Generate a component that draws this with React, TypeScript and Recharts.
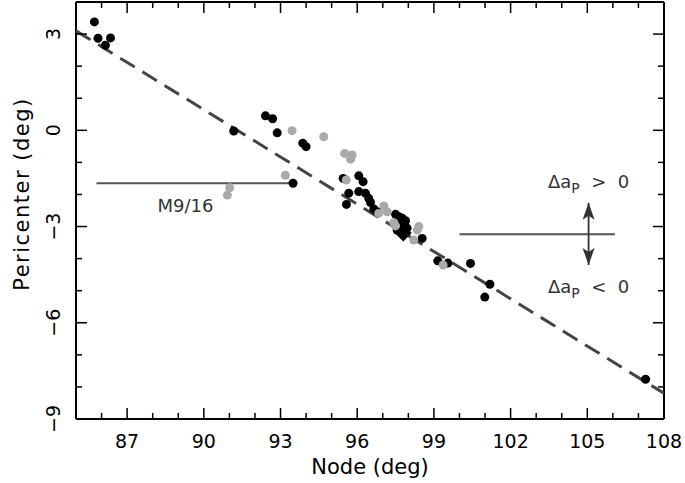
import React from 'react';
import { ScatterChart, Scatter, XAxis, YAxis, Label } from 'recharts';

// axis ticks (every degree, labels every 3)
const xTicks = [85, 86, 87, 88, 89, 90, 91, 92, 93, 94, 95, 96, 97, 98, 99, 100, 101, 102, 103, 104, 105, 106, 107, 108];
const xLabelled = [87, 90, 93, 96, 99, 102, 105, 108];
const yTicks = [-9, -8, -7, -6, -5, -4, -3, -2, -1, 0, 1, 2, 3, 4];
const yLabelled = [3, 0, -3, -6, -9];

// node, pericenter (deg)
const blackPoints = [
  { x: 85.72, y: 3.38 }, { x: 85.86, y: 2.87 }, { x: 86.15, y: 2.65 }, { x: 86.35, y: 2.88 },
  { x: 91.17, y: -0.02 }, { x: 92.41, y: 0.45 }, { x: 92.69, y: 0.36 }, { x: 92.87, y: -0.08 },
  { x: 93.87, y: -0.4 }, { x: 94.0, y: -0.51 }, { x: 93.49, y: -1.65 },
  { x: 95.45, y: -1.5 }, { x: 96.06, y: -1.42 }, { x: 96.23, y: -1.6 }, { x: 95.67, y: -1.96 },
  { x: 95.58, y: -2.31 }, { x: 96.06, y: -1.91 }, { x: 96.32, y: -1.96 }, { x: 96.45, y: -2.12 },
  { x: 96.52, y: -2.25 }, { x: 96.65, y: -2.45 }, { x: 96.78, y: -2.54 }, { x: 97.5, y: -2.62 },
  { x: 97.65, y: -2.7 }, { x: 97.76, y: -2.74 }, { x: 97.89, y: -2.82 }, { x: 97.56, y: -3.11 },
  { x: 97.95, y: -3.05 }, { x: 97.7, y: -2.95 }, { x: 98.54, y: -3.37 },
  { x: 99.15, y: -4.07 }, { x: 99.55, y: -4.14 }, { x: 100.43, y: -4.15 }, { x: 101.19, y: -4.8 },
  { x: 100.99, y: -5.2 }, { x: 107.28, y: -7.76 },
];

const grayPoints = [
  { x: 93.45, y: -0.01 }, { x: 94.69, y: -0.2 }, { x: 93.19, y: -1.4 }, { x: 91.01, y: -1.79 },
  { x: 90.92, y: -2.02 }, { x: 95.51, y: -0.72 }, { x: 95.8, y: -0.77 }, { x: 95.74, y: -0.9 },
  { x: 95.57, y: -1.55 }, { x: 96.84, y: -2.59 }, { x: 97.04, y: -2.36 }, { x: 97.17, y: -2.54 },
  { x: 97.43, y: -2.88 }, { x: 97.5, y: -2.98 }, { x: 98.41, y: -3.0 }, { x: 98.35, y: -3.11 },
  { x: 98.21, y: -3.42 }, { x: 99.36, y: -4.2 },
];

const bestPoint = [{ x: 97.8, y: -3.2 }];

const fitLine = [{ x: 85, y: 3.1 }, { x: 108, y: -8.2 }];
const m916Line = [{ x: 85.8, y: -1.65 }, { x: 93.5, y: -1.65 }];
const splitLine = [{ x: 100.0, y: -3.24 }, { x: 106.08, y: -3.24 }];
const arrowTips = [{ x: 105.05, y: -2.26, dir: 'up' }, { x: 105.05, y: -4.2, dir: 'down' }];

const notes = [
  { x: 89.28, y: -2.54, kind: 'M9/16' },
  { x: 105.05, y: -1.8, kind: '>' },
  { x: 105.05, y: -5.06, kind: '<' },
];

const FONT = '"DejaVu Sans", sans-serif';
const minus = (v: number) => String(v).replace('-', '\u2212');

function BottomTick(props: any) {
  const { x, y, payload } = props;
  const major = xLabelled.includes(payload.value);
  return (
    <g>
      <line x1={x} x2={x} y1={y} y2={y - (major ? 11 : 6)} stroke="#000" strokeWidth={1.5} />
      {major && (
        <text x={x} y={y + 29} textAnchor="middle" fontFamily={FONT} fontSize={19} fill="#000">
          {payload.value}
        </text>
      )}
    </g>
  );
}

function TopTick(props: any) {
  const { x, y, payload } = props;
  const major = xLabelled.includes(payload.value);
  return <line x1={x} x2={x} y1={y} y2={y + (major ? 11 : 6)} stroke="#000" strokeWidth={1.5} />;
}

function LeftTick(props: any) {
  const { x, y, payload } = props;
  const major = yLabelled.includes(payload.value);
  const tx = x - 16;
  return (
    <g>
      <line x1={x} x2={x + (major ? 11 : 6)} y1={y} y2={y} stroke="#000" strokeWidth={1.5} />
      {major && (
        <text x={tx} y={y} transform={`rotate(-90, ${tx}, ${y})`} textAnchor="middle" fontFamily={FONT} fontSize={19} fill="#000">
          {minus(payload.value)}
        </text>
      )}
    </g>
  );
}

function RightTick(props: any) {
  const { x, y, payload } = props;
  const major = yLabelled.includes(payload.value);
  return <line x1={x} x2={x - (major ? 11 : 6)} y1={y} y2={y} stroke="#000" strokeWidth={1.5} />;
}

const dot = (fill: string) => (p: any) => <circle cx={p.cx} cy={p.cy} r={4.5} fill={fill} />;

const diamond = (p: any) => {
  const s = 8.5;
  return <polygon points={`${p.cx},${p.cy - s} ${p.cx + s},${p.cy} ${p.cx},${p.cy + s} ${p.cx - s},${p.cy}`} fill="#000" />;
};

const noShape = () => <g />;

const arrowHead = (p: any) => {
  const d = p.payload.dir === 'up' ? 1 : -1;
  const { cx, cy } = p;
  return (
    <polygon
      points={`${cx},${cy} ${cx + 6},${cy + d * 17} ${cx},${cy + d * 13} ${cx - 6},${cy + d * 17}`}
      fill="#333"
    />
  );
};

const noteShape = (p: any) => {
  const { cx, cy, payload } = p;
  const common = { fontFamily: FONT, fill: '#333' };
  if (payload.kind === 'M9/16') {
    return (
      <text x={cx} y={cy} textAnchor="middle" fontSize={18} {...common}>
        M9/16
      </text>
    );
  }
  return (
    <text x={cx} y={cy} textAnchor="middle" fontSize={18} {...common}>
      <tspan>Δa</tspan>
      <tspan dy={5} fontSize={14}>P</tspan>
      <tspan dy={-5}>{`\u00a0\u00a0${payload.kind}\u00a0\u00a00`}</tspan>
    </text>
  );
};

export default function App() {
  return (
    <div style={{ position: 'absolute', left: 0, top: 0, width: 685, height: 483, background: '#fff' }}>
      <ScatterChart width={685} height={483} margin={{ top: 0, right: 0, bottom: 0, left: 0 }}>
        <XAxis
          type="number"
          dataKey="x"
          domain={[85, 108]}
          ticks={xTicks}
          interval={0}
          height={64}
          tickSize={0}
          tickMargin={0}
          tick={BottomTick}
          axisLine={{ stroke: '#000', strokeWidth: 2 }}
          allowDataOverflow
        >
          <Label
            content={(p: any) => {
              const vb = p.viewBox;
              return (
                <text x={vb.x + vb.width / 2} y={vb.y + 55} textAnchor="middle" fontFamily={FONT} fontSize={21} fill="#000">
                  Node (deg)
                </text>
              );
            }}
          />
        </XAxis>
        <XAxis
          xAxisId="top"
          orientation="top"
          type="number"
          dataKey="x"
          domain={[85, 108]}
          ticks={xTicks}
          interval={0}
          height={2}
          tickSize={0}
          tickMargin={0}
          tick={TopTick}
          axisLine={{ stroke: '#000', strokeWidth: 2 }}
          allowDataOverflow
        />
        <YAxis
          type="number"
          dataKey="y"
          domain={[-9, 4]}
          ticks={yTicks}
          interval={0}
          width={76}
          tickSize={0}
          tickMargin={0}
          tick={LeftTick}
          axisLine={{ stroke: '#000', strokeWidth: 2 }}
          allowDataOverflow
        >
          <Label
            content={(p: any) => {
              const vb = p.viewBox;
              const tx = vb.x + vb.width - 47.5;
              const ty = vb.y + 192;
              return (
                <text x={tx} y={ty} transform={`rotate(-90, ${tx}, ${ty})`} textAnchor="middle" fontFamily={FONT} fontSize={21} letterSpacing={1.5} fill="#000">
                  Pericenter (deg)
                </text>
              );
            }}
          />
        </YAxis>
        <YAxis
          yAxisId="right"
          orientation="right"
          type="number"
          dataKey="y"
          domain={[-9, 4]}
          ticks={yTicks}
          interval={0}
          width={21}
          tickSize={0}
          tickMargin={0}
          tick={RightTick}
          axisLine={{ stroke: '#000', strokeWidth: 2 }}
          allowDataOverflow
        />

        <Scatter data={fitLine} line={{ stroke: '#444', strokeWidth: 3, strokeDasharray: '17 9' }} shape={noShape} isAnimationActive={false} />
        <Scatter data={m916Line} line={{ stroke: '#555', strokeWidth: 1.8 }} shape={noShape} isAnimationActive={false} />
        <Scatter data={splitLine} line={{ stroke: '#555', strokeWidth: 1.8 }} shape={noShape} isAnimationActive={false} />
        <Scatter data={arrowTips} line={{ stroke: '#333', strokeWidth: 1.8 }} shape={arrowHead} isAnimationActive={false} />
        <Scatter data={blackPoints} shape={dot('#000')} isAnimationActive={false} />
        <Scatter data={grayPoints} shape={dot('#aaa')} isAnimationActive={false} />
        <Scatter data={bestPoint} shape={diamond} isAnimationActive={false} />
        <Scatter data={notes} shape={noteShape} isAnimationActive={false} />
      </ScatterChart>
    </div>
  );
}
